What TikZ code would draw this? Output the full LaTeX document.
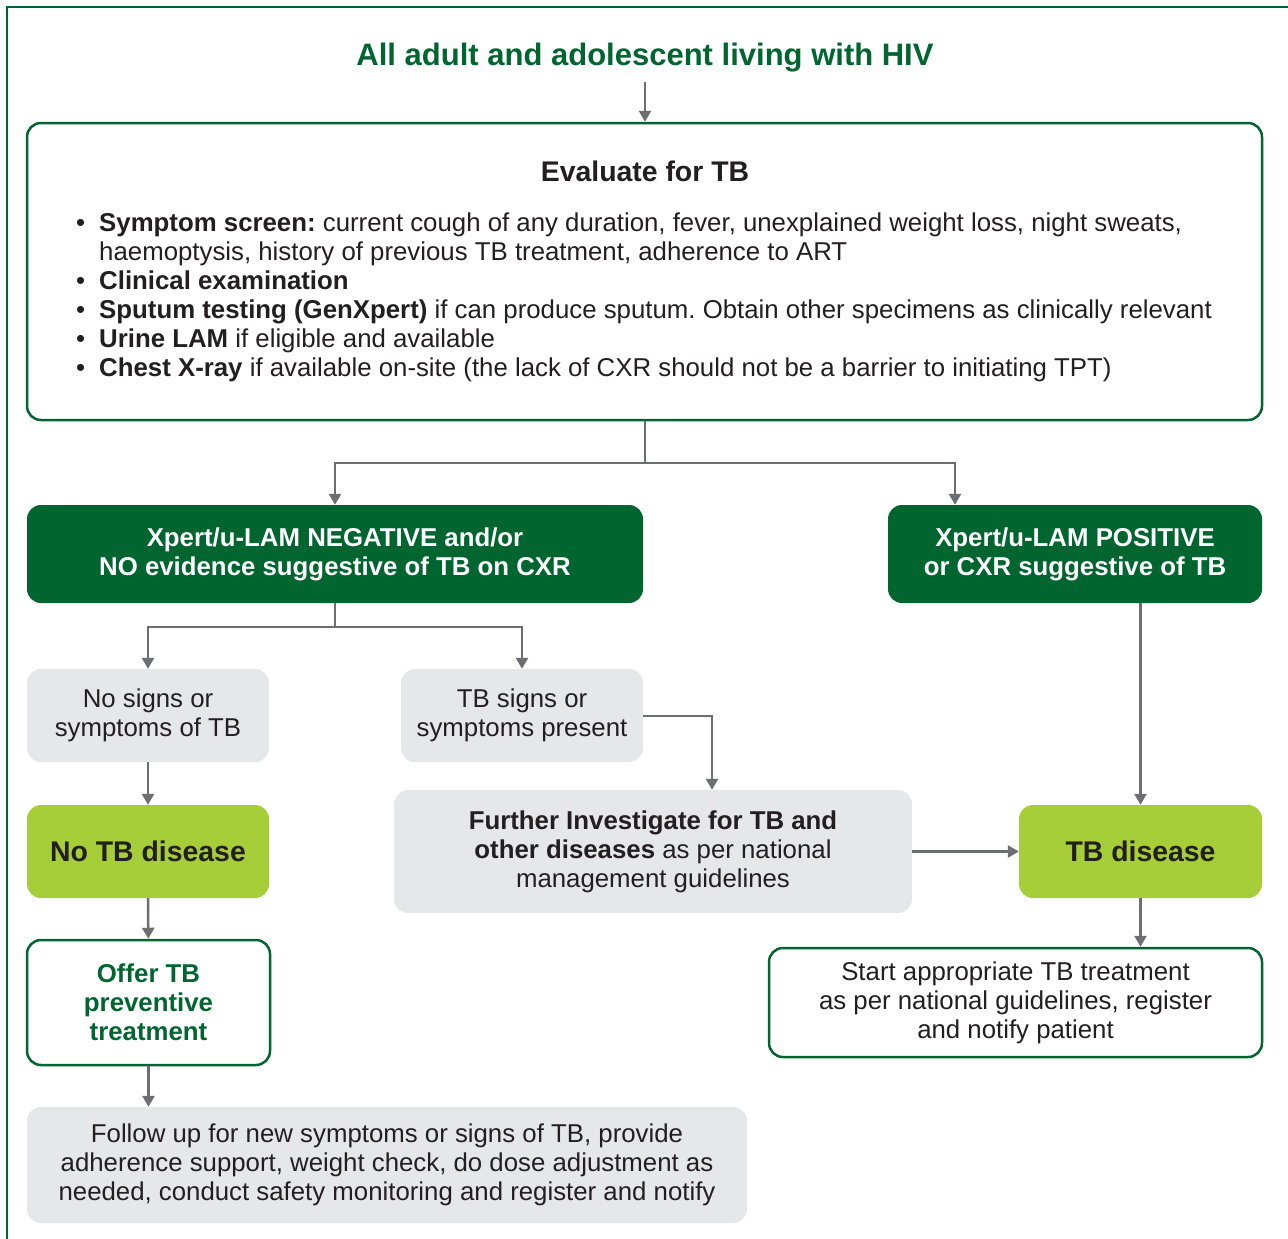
\documentclass[tikz,border=0pt]{standalone}
\usepackage{fontspec}
\setmainfont{Liberation Sans}
\usetikzlibrary{arrows.meta,calc}
\definecolor{dgreen}{HTML}{00652F}
\definecolor{lime}{HTML}{A6CE39}
\definecolor{lgray}{HTML}{E6E7E8}
\definecolor{agray}{HTML}{6D6E71}
\definecolor{txt}{HTML}{231F20}
\newcommand{\bodyfont}{\fontsize{25.8}{29}\selectfont}
\newcommand{\headfont}{\fontsize{28.4}{29}\selectfont\bfseries}
\frenchspacing
\begin{document}
\begin{tikzpicture}[x=1pt,y=-1pt,
  box/.style={rounded corners=14pt,minimum width=#1,align=center,inner sep=0pt,text=txt,font=\bodyfont},
  graybox/.style={box=#1,fill=lgray},
  limebox/.style={box=#1,fill=lime,font=\headfont},
  darkbox/.style={box=#1,fill=dgreen,text=white,font=\bodyfont\bfseries},
  linebox/.style={box=#1,draw=dgreen,line width=2.5pt,fill=white},
  conn/.style={draw=agray,line width=2.5pt,-{Triangle[width=12pt,length=11pt]}},
  plain/.style={draw=agray,line width=2.5pt},
  frame/.style={draw=dgreen,line width=2.5pt}
]
\useasboundingbox (0,0) rectangle (1288,1239);
% outer frame (top and left visible)
\draw[frame] (7,1239) -- (7,7) -- (1288,7);

% title
\node[font=\fontsize{31}{31}\selectfont\bfseries,text=dgreen] (title) at (645,58) {All adult and adolescent living with HIV};

% evaluate box
\node[linebox=1235pt,minimum height=297pt] (eval) at (644.5,271.5) {};
\node[font=\headfont,text=txt] (evaltitle) at (645,171) {Evaluate for TB};
\node[anchor=north west,inner sep=0pt,text=txt,font=\bodyfont] (evallist) at (76,210.7)
{\renewcommand{\arraystretch}{1}%
\begin{tabular}{@{}c@{\hspace{14pt}}l@{}}
•&\textbf{Symptom screen:} current cough of any duration, fever, unexplained weight loss, night sweats,\\
&haemoptysis, history of previous TB treatment, adherence to ART\\
•&\textbf{Clinical examination}\\
•&\textbf{Sputum testing (GenXpert)} if can produce sputum. Obtain other specimens as clinically relevant\\
•&\textbf{Urine LAM} if eligible and available\\
•&\textbf{Chest X-ray} if available on-site (the lack of CXR should not be a barrier to initiating TPT)
\end{tabular}};

% second level
\node[darkbox=616pt,minimum height=98pt] (neg) at (335,554) {Xpert/u-LAM NEGATIVE and/or\\NO evidence suggestive of TB on CXR};
\node[darkbox=374pt,minimum height=98pt] (pos) at (1075,554) {Xpert/u-LAM POSITIVE\\or CXR suggestive of TB};

% third level
\node[graybox=242pt,minimum height=93pt] (nosigns) at (148,715.5) {No signs or\\symptoms of TB};
\node[graybox=242pt,minimum height=93pt] (signs) at (522,715.5) {TB signs or\\symptoms present};

\node[limebox=242pt,minimum height=93pt] (notb) at (148,851.5) {No TB disease};
\node[graybox=518pt,minimum height=123pt] (further) at (653,851.5) {\textbf{Further Investigate for TB and}\\\textbf{other diseases} as per national\\management guidelines};
\node[limebox=243pt,minimum height=93pt] (tbd) at (1140.5,851.5) {TB disease};

\node[linebox=243pt,minimum height=125pt,text=dgreen,font=\bodyfont\bfseries] (offer) at (148.5,1002.5) {Offer TB\\preventive\\treatment};
\node[linebox=493pt,minimum height=109pt] (start) at (1015.5,1002.5) {Start appropriate TB treatment\\as per national guidelines, register\\and notify patient};

\node[graybox=720pt,minimum height=116pt] (follow) at (387,1165) {Follow up for new symptoms or signs of TB, provide\\adherence support, weight check, do dose adjustment as\\needed, conduct safety monitoring and register and notify};

% connectors
\coordinate (j1) at (645,463);
\coordinate (j2) at (335,627);
\draw[conn] (title.south |- 0,82) -- (eval.north -| title.south);
\draw[plain] (eval.south -| j1) -- (j1);
\draw[conn] (j1) -| (neg.north);
\draw[conn] (j1) -| (pos.north -| 955,0);
\draw[plain] (neg.south) -- (j2);
\draw[conn] (j2) -| (nosigns.north);
\draw[conn] (j2) -| (signs.north);
\draw[conn] (signs.east |- 0,716) -| (further.north -| 712,0);
\draw[conn] (nosigns) -- (notb);
\draw[conn] (notb) -- (offer);
\draw[conn] (offer.south) -- (follow.north -| offer.south);
\draw[conn] (further.east |- tbd) -- (tbd.west);
\draw[conn] (pos.south -| tbd.north) -- (tbd.north);
\draw[conn] (tbd.south) -- (start.north -| tbd.south);
\end{tikzpicture}
\end{document}
